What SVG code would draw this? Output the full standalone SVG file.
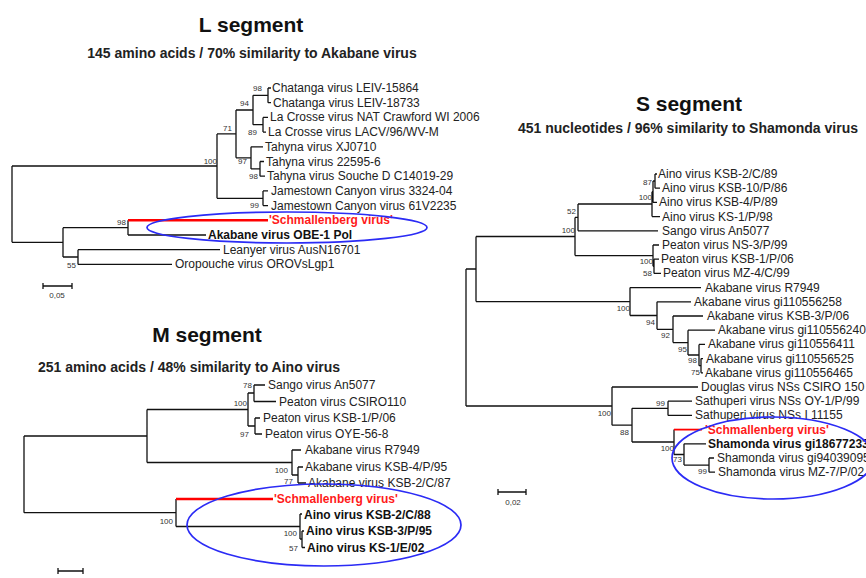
<svg xmlns="http://www.w3.org/2000/svg" width="866" height="578" viewBox="0 0 866 578">
<style>
.title{font-family:"Liberation Sans",Arial,sans-serif;font-size:21px;font-weight:bold;fill:#111;text-anchor:middle}
.sub{font-family:"Liberation Sans",Arial,sans-serif;font-size:14px;font-weight:bold;fill:#222;text-anchor:middle}
.leaf{font-family:"Liberation Sans",Arial,sans-serif;font-size:12px;fill:#222}
.bold{font-weight:bold;fill:#111}
.red{font-weight:bold;fill:#ff1a1a}
.bs{font-family:"Liberation Sans",Arial,sans-serif;font-size:8px;fill:#333;text-anchor:end}
.sc{font-family:"Liberation Sans",Arial,sans-serif;font-size:8px;fill:#333;text-anchor:middle}
.br{fill:none;stroke:#111;stroke-width:1.3}
.rb{fill:none;stroke:#ff0000;stroke-width:2.6}
.ell{fill:none;stroke:#2b2bf5;stroke-width:1.7}
</style>
<rect width="866" height="578" fill="#fff"/>

<g id="titles">
<text class="title" x="251" y="32">L segment</text>
<text class="sub" x="252" y="58">145 amino acids / 70% similarity to Akabane virus</text>
<text class="title" x="207" y="342">M segment</text>
<text class="sub" x="189" y="372">251 amino acids / 48% similarity to Aino virus</text>
<text class="title" x="689" y="111">S segment</text>
<text class="sub" x="688" y="133">451 nucleotides / 96% similarity to Shamonda virus</text>
</g>

<g id="connectors">
<path class="br" d="M12,166V242.3 M12,166H217 M217,133.9V198.3 M217,133.9H236 M236,110V157.8 M236,110H253 M253,95.3V124.7 M253,95.3H268 M268,88V102.7 M268,88H271 M268,102.7H271 M253,124.7H263 M263,117.4V132.1 M263,117.4H268 M263,132.1H266 M236,157.8H251 M251,146.8V168.9 M251,146.8H263 M251,168.9H260 M260,161.5V176.2 M260,161.5H264 M260,176.2H265 M217,198.3H263 M263,190.9V205.6 M263,190.9H268 M263,205.6H268 M12,242.3H63 M63,227.7V257 M63,227.7H128 M128,220.3V235 M128,235H206 M63,257H78 M78,249.7V264.4 M78,249.7H220 M78,264.4H172"/>
<path class="rb" d="M128,220.3H268"/>
<path class="br" d="M24,436V512.7 M24,436H147 M147,409.5V462.5 M147,409.5H248 M248,393V426 M248,393H254 M254,385V401.5 M254,385H265 M254,401.5H276 M248,426H255 M255,418V434 M255,418H260 M255,434H262 M147,462.5H292 M292,450V475 M292,450H301 M292,475H298 M298,467V483 M298,467H303 M298,483H306 M24,512.7H176 M176,499V526.5 M176,526.5H300 M300,514V539 M300,514H302 M300,539H302 M302,531V547.5 M302,531H304 M302,547.5H305"/>
<path class="rb" d="M176,499H273"/>
<path class="br" d="M466,269V406 M466,269H476 M476,236.5V301.6 M476,236.5H575 M575,217.4V255.6 M575,217.4H578 M578,204V230.8 M578,204H652 M578,230.8H658 M652,191.7V216.6 M652,216.6H660 M652,191.7H653 M653,181V202.4 M653,202.4H657 M653,181H655 M655,174V188.2 M655,174H657 M655,188.2H660 M575,255.6H653 M653,245V266.3 M653,245H659 M653,266.3H654 M654,259.2V273.4 M654,259.2H659 M654,273.4H661 M476,301.6H630 M630,287.6V315.5 M630,287.6H701 M630,315.5H657 M657,301.8V329.3 M657,301.8H691 M657,329.3H673 M673,316V342.6 M673,316H703 M673,342.6H688 M688,330.2V355 M688,330.2H715 M688,355H699 M699,344.4V365.7 M699,344.4H705 M699,365.7H701 M701,358.6V372.8 M701,358.6H703 M701,372.8H703 M466,406H612 M612,387V425.2 M612,387H698 M612,425.2H632 M632,408.3V442 M632,408.3H668 M668,401.2V415.4 M668,401.2H692 M668,415.4H692 M632,442H674 M674,429.6V454.5 M674,454.5H684 M684,443.8V465.1 M684,443.8H706 M684,465.1H709 M709,458V472.2 M709,458H714 M709,472.2H715"/>
<path class="rb" style="stroke-width:1.8" d="M674,429.6H702"/>
<path class="br" d="M43,286H72 M43,283V289 M72,283V289 M58,571H83 M58,568V574 M83,568V574 M498,492H526 M498,489V495 M526,489V495"/>
</g>

<g id="L-tree">
<g id="L1"><text class="leaf" x="272" y="92">Chatanga virus LEIV-15864</text></g>
<g id="L2"><text class="leaf" x="273" y="106.7">Chatanga virus LEIV-18733</text></g>
<g id="L3"><text class="leaf" x="270" y="121.4">La Crosse virus NAT Crawford WI 2006</text></g>
<g id="L4"><text class="leaf" x="268" y="136.1">La Crosse virus LACV/96/WV-M</text></g>
<g id="L5"><text class="leaf" x="265" y="150.8">Tahyna virus XJ0710</text></g>
<g id="L6"><text class="leaf" x="266" y="165.5">Tahyna virus 22595-6</text></g>
<g id="L7"><text class="leaf" x="267" y="180.2">Tahyna virus Souche D C14019-29</text></g>
<g id="L8"><text class="leaf" x="271" y="194.9">Jamestown Canyon virus 3324-04</text></g>
<g id="L9"><text class="leaf" x="271" y="209.6">Jamestown Canyon virus 61V2235</text></g>
<g id="L10"><text class="leaf red" x="269" y="224.3">'Schmallenberg virus'</text></g>
<g id="L11"><text class="leaf bold" x="208" y="239">Akabane virus OBE-1 Pol</text></g>
<g id="L12"><text class="leaf" x="223" y="253.7">Leanyer virus AusN16701</text></g>
<g id="L13"><text class="leaf" x="175" y="268.4">Oropouche virus OROVsLgp1</text></g>
<g id="L-boot">
<text class="bs" x="262" y="91">98</text>
<text class="bs" x="249" y="106">94</text>
<text class="bs" x="257" y="135">89</text>
<text class="bs" x="232" y="131">71</text>
<text class="bs" x="247" y="164">97</text>
<text class="bs" x="258" y="179">98</text>
<text class="bs" x="217" y="164">100</text>
<text class="bs" x="259" y="208">99</text>
<text class="bs" x="126" y="225">98</text>
<text class="bs" x="76" y="268">55</text>
</g>
<g id="L-scale"><text class="sc" x="57" y="298">0,05</text></g>
<ellipse id="L-ellipse" class="ell" cx="287" cy="227.5" rx="140" ry="15.5"/>
</g>

<g id="M-tree">
<g id="M1"><text class="leaf" x="268" y="389">Sango virus An5077</text></g>
<g id="M2"><text class="leaf" x="279" y="405.5">Peaton virus CSIRO110</text></g>
<g id="M3"><text class="leaf" x="263" y="422">Peaton virus KSB-1/P/06</text></g>
<g id="M4"><text class="leaf" x="265" y="438">Peaton virus OYE-56-8</text></g>
<g id="M5"><text class="leaf" x="305" y="454">Akabane virus R7949</text></g>
<g id="M6"><text class="leaf" x="305" y="470.5">Akabane virus KSB-4/P/95</text></g>
<g id="M7"><text class="leaf" x="308" y="487">Akabane virus KSB-2/C/87</text></g>
<g id="M8"><text class="leaf red" x="274" y="503">'Schmallenberg virus'</text></g>
<g id="M9"><text class="leaf bold" x="304" y="519">Aino virus KSB-2/C/88</text></g>
<g id="M10"><text class="leaf bold" x="306" y="535">Aino virus KSB-3/P/95</text></g>
<g id="M11"><text class="leaf bold" x="307" y="551.5">Aino virus KS-1/E/02</text></g>
<g id="M-boot">
<text class="bs" x="252" y="388">78</text>
<text class="bs" x="247" y="406">100</text>
<text class="bs" x="249" y="437">97</text>
<text class="bs" x="288" y="473">100</text>
<text class="bs" x="293" y="484">77</text>
<text class="bs" x="173" y="524">100</text>
<text class="bs" x="297" y="536">100</text>
<text class="bs" x="298" y="551">57</text>
</g>
<g id="M-scale"><text class="sc" x="70" y="583">0,1</text></g>
<ellipse id="M-ellipse" class="ell" cx="324" cy="525" rx="137" ry="41"/>
</g>

<g id="S-tree">
<g id="S1"><text class="leaf" x="658" y="178">Aino virus KSB-2/C/89</text></g>
<g id="S2"><text class="leaf" x="662" y="192.2">Aino virus KSB-10/P/86</text></g>
<g id="S3"><text class="leaf" x="659" y="206.4">Aino virus KSB-4/P/89</text></g>
<g id="S4"><text class="leaf" x="662" y="220.6">Aino virus KS-1/P/98</text></g>
<g id="S5"><text class="leaf" x="662" y="234.8">Sango virus An5077</text></g>
<g id="S6"><text class="leaf" x="662" y="249">Peaton virus NS-3/P/99</text></g>
<g id="S7"><text class="leaf" x="661" y="263.2">Peaton virus KSB-1/P/06</text></g>
<g id="S8"><text class="leaf" x="663" y="277.4">Peaton virus MZ-4/C/99</text></g>
<g id="S9"><text class="leaf" x="705" y="291.6">Akabane virus R7949</text></g>
<g id="S10"><text class="leaf" x="694" y="305.8">Akabane virus gi110556258</text></g>
<g id="S11"><text class="leaf" x="707" y="320">Akabane virus KSB-3/P/06</text></g>
<g id="S12"><text class="leaf" x="718" y="334.2">Akabane virus gi110556240</text></g>
<g id="S13"><text class="leaf" x="708" y="348.4">Akabane virus gi110556411</text></g>
<g id="S14"><text class="leaf" x="706" y="362.6">Akabane virus gi110556525</text></g>
<g id="S15"><text class="leaf" x="705" y="376.8">Akabane virus gi110556465</text></g>
<g id="S16"><text class="leaf" x="701" y="391">Douglas virus NSs CSIRO 150</text></g>
<g id="S17"><text class="leaf" x="695" y="405.2">Sathuperi virus NSs OY-1/P/99</text></g>
<g id="S18"><text class="leaf" x="695" y="419.4">Sathuperi virus NSs I 11155</text></g>
<g id="S19"><text class="leaf red" x="705" y="433.6">'Schmallenberg virus'</text></g>
<g id="S20"><text class="leaf bold" x="708" y="447.8">Shamonda virus gi18677233</text></g>
<g id="S21"><text class="leaf" x="717" y="462">Shamonda virus gi94039095</text></g>
<g id="S22"><text class="leaf" x="718" y="476.2">Shamonda virus MZ-7/P/02</text></g>
<g id="S-boot">
<text class="bs" x="652" y="185">87</text>
<text class="bs" x="652" y="200">100</text>
<text class="bs" x="576" y="214">52</text>
<text class="bs" x="575" y="233">100</text>
<text class="bs" x="653" y="264">100</text>
<text class="bs" x="652" y="276">58</text>
<text class="bs" x="630" y="311">100</text>
<text class="bs" x="655" y="325">94</text>
<text class="bs" x="670" y="338">92</text>
<text class="bs" x="687" y="352">95</text>
<text class="bs" x="697" y="363">98</text>
<text class="bs" x="700" y="375">75</text>
<text class="bs" x="611" y="416">100</text>
<text class="bs" x="665" y="406">99</text>
<text class="bs" x="629" y="435">88</text>
<text class="bs" x="674" y="451">100</text>
<text class="bs" x="682" y="462">73</text>
<text class="bs" x="707" y="474">99</text>
</g>
<g id="S-scale"><text class="sc" x="513" y="505">0,02</text></g>
<ellipse id="S-ellipse" class="ell" cx="773" cy="458" rx="101" ry="41"/>
</g>
</svg>
